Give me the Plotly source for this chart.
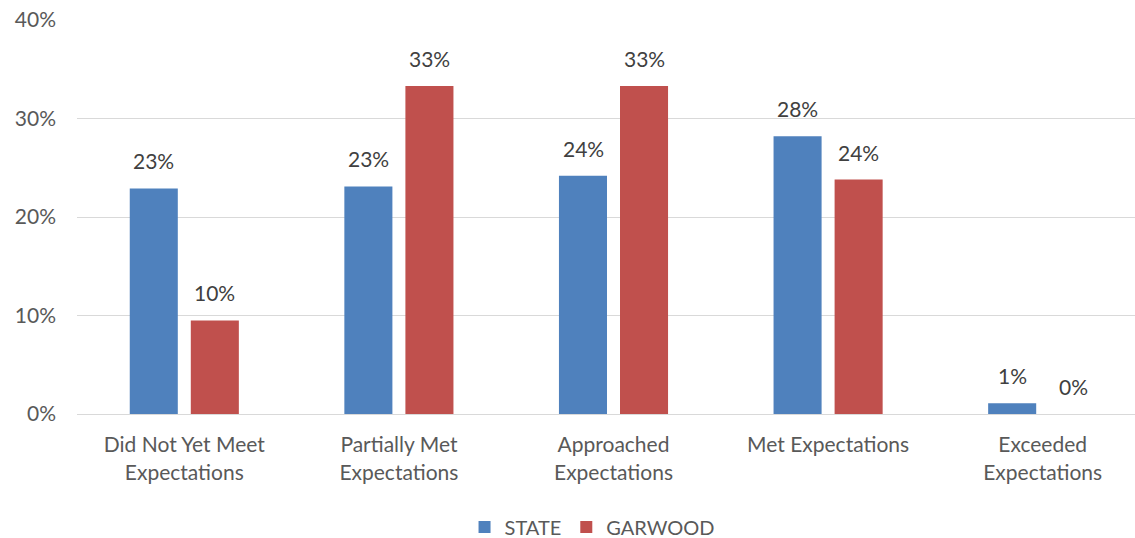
import plotly.graph_objects as go

categories = ["Did Not Yet Meet<br>Expectations", "Partially Met<br>Expectations",
              "Approached<br>Expectations", "Met Expectations", "Exceeded<br>Expectations"]
state = [22.9, 23.1, 24.2, 28.2, 1.1]
garwood = [9.5, 33.3, 33.3, 23.8, 0.0]
series_names = ["STATE", "GARWOOD"]
colors = ["#4F81BD", "#C0504D"]

FONT = "Lato, 'Open Sans', sans-serif"
TXT = "#595959"
LBL = "#404040"
FS = 21

fig = go.Figure()
for name, vals, col in zip(series_names, [state, garwood], colors):
    fig.add_trace(go.Bar(x=categories, y=vals, name=name, marker_color=col,
                         marker_line_width=0))

annotations = []
for shift, vals in zip([-30.5, 30.5], [state, garwood]):
    for c, v in zip(categories, vals):
        annotations.append(dict(x=c, y=v, xref="x", yref="y", text=f"{round(v)}%",
                                showarrow=False, xshift=shift, yanchor="bottom", yshift=13,
                                font=dict(family=FONT, size=FS, color=LBL)))

fig.update_layout(
    width=1152, height=538,
    margin=dict(l=77, r=2, t=20, b=124, autoexpand=False),
    plot_bgcolor="white", paper_bgcolor="white",
    barmode="group", bargap=0.431, bargroupgap=0.213,
    font=dict(family=FONT, size=FS, color=TXT),
    annotations=annotations,
    legend=dict(orientation="h", x=0.48, xanchor="center", y=-0.287, yanchor="middle",
                font=dict(family=FONT, size=FS - 1, color=TXT), itemwidth=30,
                traceorder="normal"),
    xaxis=dict(showline=True, linecolor="#D9D9D9", linewidth=1, ticks="",
               ticklabelstandoff=12, automargin=False,
               tickfont=dict(family=FONT, size=FS, color=TXT)),
    yaxis=dict(range=[0, 40], dtick=10, ticksuffix="%", showgrid=True,
               gridcolor="#D9D9D9", gridwidth=1, zeroline=False, ticks="",
               ticklabelstandoff=20, automargin=False,
               tickfont=dict(family=FONT, size=FS, color=TXT)),
)

fig.write_html("out.html", config={"displayModeBar": False},
               post_script="document.body.style.margin='0';document.body.style.overflow='hidden';")
